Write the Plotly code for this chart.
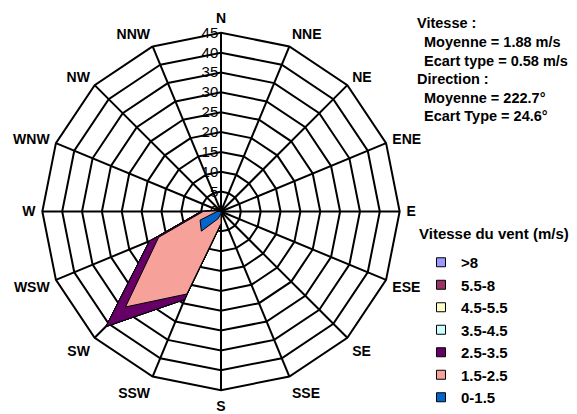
import plotly.graph_objects as go

directions = ["N", "NNE", "NE", "ENE", "E", "ESE", "SE", "SSE",
              "S", "SSW", "SW", "WSW", "W", "WNW", "NW", "NNW"]

# frequencies (%) per speed class
s_0_15   = [0, 0, 0, 0, 0, 0, 0, 0, 0.5, 2.0, 7.0, 5.7, 1.0, 0, 0, 0]
s_15_25  = [0, 0, 0, 0, 0, 0, 0, 0, 2.5, 20.5, 27.0, 11.3, 3.5, 0.5, 0, 0]
s_25_35  = [0, 0, 0, 0, 0, 0, 0, 0, 0.2, 1.5, 7.0, 2.5, 0.5, 0, 0, 0]
s_35_45  = [0] * 16
s_45_55  = [0] * 16
s_55_8   = [0] * 16
s_gt8    = [0] * 16

classes = [">8", "5.5-8", "4.5-5.5", "3.5-4.5", "2.5-3.5", "1.5-2.5", "0-1.5"]
colors = ["#9999FF", "#993366", "#FFFFCC", "#CCFFFF", "#660066", "#F7A19B", "#0066CC"]
series_low_to_high = [s_0_15, s_15_25, s_25_35, s_35_45, s_45_55, s_55_8, s_gt8]

radial_ticks = [0, 5, 10, 15, 20, 25, 30, 35, 40, 45]

# cumulative stacking
cum = []
run = [0.0] * 16
for s in series_low_to_high:
    run = [a + b for a, b in zip(run, s)]
    cum.append(run)
cum_high_to_low = cum[::-1]  # aligned with classes order

fig = go.Figure()
# draw largest cumulative first
for name, col, vals in zip(classes, colors, cum_high_to_low):
    fig.add_trace(go.Scatterpolar(
        r=vals + vals[:1], theta=directions + directions[:1],
        mode="lines", fill="toself", fillcolor=col,
        line=dict(color="black", width=1),
        name=name, showlegend=False, hoverinfo="skip"))

# legend entries
for name, col in zip(classes, colors):
    fig.add_trace(go.Scatterpolar(
        r=[None], theta=[None], mode="markers", name=name,
        marker=dict(symbol="square", size=9, color=col,
                    line=dict(color="black", width=1))))

FAM = "Liberation Sans, Arial, sans-serif"
font_b = dict(family=FAM, size=15, color="black", weight="bold")
font_s = dict(family=FAM, size=14.5, color="black", weight="bold")
OFF = 8  # page body margin
W, H = 577 - OFF, 414 - OFF

def px(x):
    return (x - OFF) / W

def py(y):
    return 1 - (y - OFF) / H

cx, cy, R = 221, 213, 180

fig.update_layout(
    width=W, height=H,
    margin=dict(l=0, r=0, t=0, b=0),
    paper_bgcolor="white", plot_bgcolor="white",
    font=dict(family=FAM, color="black"),
    polar=dict(
        domain=dict(x=[px(cx - R), px(cx + R)], y=[py(cy + R), py(cy - R)]),
        bgcolor="white",
        gridshape="linear",
        angularaxis=dict(
            type="category", categoryarray=directions,
            direction="clockwise", rotation=90,
            showline=True, linecolor="black", linewidth=2,
            gridcolor="black", gridwidth=1.5,
            ticks="outside", ticklen=3, tickcolor="rgba(0,0,0,0)",
            tickfont=dict(family=FAM, size=14, color="black", weight="bold"),
            layer="below traces"),
        radialaxis=dict(
            range=[0, 45], tickvals=radial_ticks,
            angle=90, tickangle=90, side="counterclockwise",
            showline=False, ticks="",
            gridcolor="black", gridwidth=1.5,
            tickfont=dict(family=FAM, size=15, color="black"),
            layer="below traces"),
    ),
    legend=dict(x=px(421), y=py(248), xanchor="left", yanchor="top",
                font=font_b, bgcolor="rgba(0,0,0,0)", tracegroupgap=0,
                itemwidth=30),
    showlegend=True,
)

stats_lines = [("Vitesse :", 415, 23), ("Moyenne = 1.88 m/s", 422, 42),
               ("Ecart type = 0.58 m/s", 422, 61), ("Direction :", 415, 80),
               ("Moyenne = 222.7°", 422, 99), ("Ecart Type = 24.6°", 422, 117)]
for txt, x, y in stats_lines:
    fig.add_annotation(text=txt, x=px(x), y=py(y), xref="paper", yref="paper",
                       xanchor="left", yanchor="middle", showarrow=False, font=font_s)
fig.add_annotation(text="Vitesse du vent (m/s)", x=px(417), y=py(235),
                   xref="paper", yref="paper", xanchor="left", yanchor="middle",
                   showarrow=False, font=font_b)

fig.write_html("out.html")
